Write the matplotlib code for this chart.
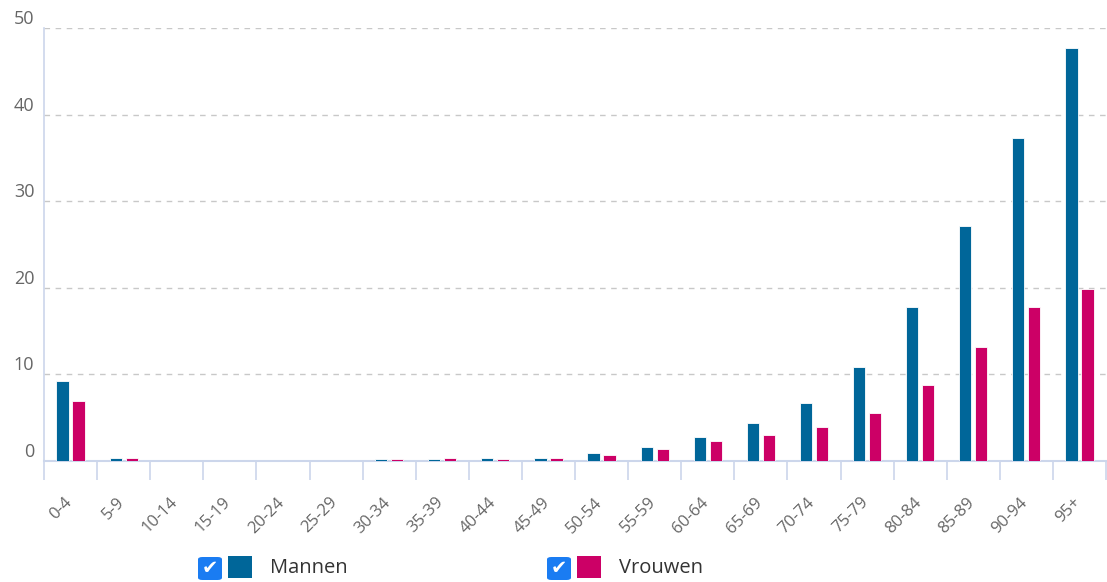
import matplotlib
matplotlib.use("Agg")
import matplotlib.pyplot as plt
import matplotlib.transforms as mtransforms
import numpy as np
from matplotlib.patches import FancyBboxPatch, Rectangle

categories = ["0-4", "5-9", "10-14", "15-19", "20-24", "25-29", "30-34", "35-39",
              "40-44", "45-49", "50-54", "55-59", "60-64", "65-69", "70-74",
              "75-79", "80-84", "85-89", "90-94", "95+"]
mannen = [9.2, 0.4, 0, 0, 0, 0, 0.2, 0.2, 0.4, 0.4, 0.9, 1.6, 2.8, 4.4, 6.7,
          10.9, 17.8, 27.1, 37.3, 47.7]
vrouwen = [6.9, 0.4, 0, 0, 0, 0, 0.2, 0.4, 0.2, 0.4, 0.7, 1.4, 2.3, 3.0, 3.9,
           5.5, 8.8, 13.2, 17.8, 19.9]
yticks = [0, 10, 20, 30, 40, 50]
series_names = ["Mannen", "Vrouwen"]
colors = ["#006699", "#cc0066"]

plt.rcParams['font.family'] = ['Open Sans', 'DejaVu Sans']
W, H = 1107, 582
fig = plt.figure(figsize=(W / 100, H / 100), dpi=100)
ax = fig.add_axes([44 / W, (H - 461) / H, (1106 - 44) / W, (461 - 28) / H])

x = np.arange(len(categories))
bw = 0.23
ax.bar(x - 0.15, mannen, width=bw, color=colors[0], edgecolor='white', linewidth=0.6, zorder=3)
ax.bar(x + 0.15, vrouwen, width=bw, color=colors[1], edgecolor='white', linewidth=0.6, zorder=3)

ax.set_xlim(-0.5, len(categories) - 0.5)
ax.set_ylim(0, 50)
ax.set_yticks(yticks)
ax.set_yticklabels([str(t) for t in yticks])
ax.tick_params(axis='y', length=0, pad=7, labelsize=13, labelcolor='#666666')
for lab in ax.get_yticklabels():
    lab.set_verticalalignment('bottom')
for t in yticks[1:]:
    ax.axhline(t, color='#c8c8c8', linestyle=(0, (4, 4)), linewidth=1, zorder=1)

ax.set_xticks(x)
ax.set_xticklabels(categories, rotation=45, ha='right', rotation_mode='anchor')
ax.tick_params(axis='x', length=0, pad=24, labelsize=12, labelcolor='#666666')
shift = mtransforms.ScaledTranslation(-7 / 100, 0, fig.dpi_scale_trans)
for lab in ax.get_xticklabels():
    lab.set_transform(lab.get_transform() + shift)
ax.set_xticks(np.arange(-0.5, len(categories), 1.0), minor=True)
ax.tick_params(axis='x', which='minor', length=13.5, width=1.2, color='#ccd6eb')

for s in ['top', 'right']:
    ax.spines[s].set_visible(False)
ax.spines['left'].set_color('#ccd6eb')
ax.spines['bottom'].set_color('#ccd6eb')
ax.spines['left'].set_linewidth(1.2)
ax.spines['bottom'].set_linewidth(1.5)

# legend
def legend_item(xc, color, label):
    cb = FancyBboxPatch((xc / W, (H - 580) / H), 24 / W, 23 / H,
                        boxstyle="round,pad=0,rounding_size=0.004",
                        transform=fig.transFigure, facecolor='#1a7cf2', edgecolor='none')
    fig.patches.append(cb)
    fig.text((xc + 12) / W, (H - 568.5) / H, "\u2714", color='white', fontsize=14,
             ha='center', va='center', family=['DejaVu Sans'])
    sq = Rectangle(((xc + 30) / W, (H - 578) / H), 24 / W, 22 / H,
                   transform=fig.transFigure, facecolor=color, edgecolor='none')
    fig.patches.append(sq)
    fig.text((xc + 72) / W, (H - 568) / H, label, color='#333333', fontsize=14.5,
             ha='left', va='center')

legend_item(198, colors[0], series_names[0])
legend_item(547, colors[1], series_names[1])

fig.savefig("out.png", dpi=100)
